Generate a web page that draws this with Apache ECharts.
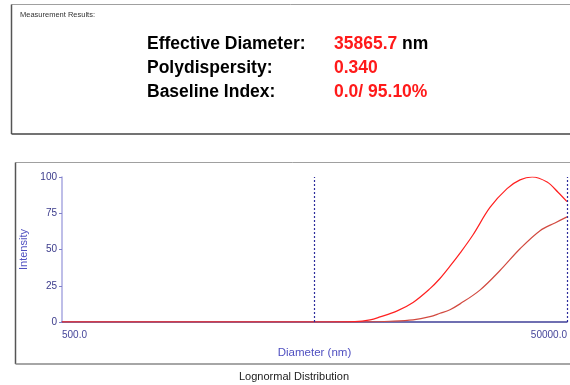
<!DOCTYPE html>
<html>
<head>
<meta charset="utf-8">
<script src="https://cdn.jsdelivr.net/npm/echarts@6/dist/echarts.min.js"></script>
<style>
  html, body { margin: 0; padding: 0; background: #fff; }
  #chart { width: 570px; height: 385px; }
</style>
</head>
<body>
<div id="chart"></div>
<script>
// Intensity distribution by particle diameter (nm), log-scaled x axis
const upperDiameters = [500, 1000, 2000, 5000, 7235, 8300, 9087, 10580, 12280, 14330, 15700, 17200, 18850, 21200, 24770, 28940, 32580, 36370, 41700, 46060, 50000];
const upperIntensity = [0, 0, 0, 0, 0.3, 1.5, 3.5, 7.5, 13.5, 23, 30, 38.5, 47.5, 60, 79, 92, 98, 100, 96.5, 89.5, 83];

const lowerDiameters = [500, 1000, 2000, 5000, 8070, 9950, 12280, 14330, 15700, 17200, 18850, 22600, 27140, 32580, 39100, 45000, 50000];
const lowerIntensity = [0, 0, 0, 0, 0.1, 0.5, 1.5, 3.7, 6, 8.5, 12.5, 22, 35.5, 50.5, 63, 68.5, 72.5];

const xTickValues = [500, 50000];
const yTickValues = [0, 25, 50, 75, 100];
const markerDiameters = [5000, 50000];

const resultLabels = ['Effective Diameter:', 'Polydispersity:', 'Baseline Index:'];
const resultValues = ['35865.7', '0.340', '0.0/ 95.10%'];
const resultUnits = [' nm', '', ''];

const pair = (xs, ys) => xs.map((x, i) => [x, ys[i]]);

const chart = echarts.init(document.getElementById('chart'), null, { renderer: 'canvas' });

const graphics = [
  // results panel frame
  { type: 'line', shape: { x1: 11.5, y1: 4.5, x2: 570, y2: 4.5 }, style: { stroke: '#a0a0a0', lineWidth: 1 } },
  { type: 'line', shape: { x1: 11.5, y1: 4.5, x2: 11.5, y2: 134 }, style: { stroke: '#555', lineWidth: 1.5 } },
  { type: 'line', shape: { x1: 11.5, y1: 134, x2: 570, y2: 134 }, style: { stroke: '#444', lineWidth: 1.5 } },
  { type: 'text', x: 20, y: 15, style: { text: 'Measurement Results:', font: '7.5px "Liberation Sans", Arial, sans-serif', fill: '#333', verticalAlign: 'middle' } },
  // chart panel frame
  { type: 'line', shape: { x1: 15.5, y1: 162.5, x2: 570, y2: 162.5 }, style: { stroke: '#a0a0a0', lineWidth: 1 } },
  { type: 'line', shape: { x1: 15.5, y1: 162.5, x2: 15.5, y2: 364 }, style: { stroke: '#555', lineWidth: 1.5 } },
  { type: 'line', shape: { x1: 15.5, y1: 364, x2: 570, y2: 364 }, style: { stroke: '#888', lineWidth: 1.5 } },
  { type: 'text', x: 294, y: 377, style: { text: 'Lognormal Distribution', font: '11px "Liberation Sans", Arial, sans-serif', fill: '#222', align: 'center', verticalAlign: 'middle' } }
];

resultLabels.forEach((label, i) => {
  const y = 44 + i * 24;
  graphics.push({ type: 'text', x: 147, y: y, style: { text: label, font: 'bold 17.5px "Liberation Sans", Arial, sans-serif', fill: '#000', verticalAlign: 'middle' } });
  graphics.push({
    type: 'text', x: 334, y: y,
    style: {
      text: '{v|' + resultValues[i] + '}' + (resultUnits[i] ? '{u|' + resultUnits[i] + '}' : ''),
      verticalAlign: 'middle',
      rich: {
        v: { font: 'bold 17.5px "Liberation Sans", Arial, sans-serif', fill: '#ff1a1a' },
        u: { font: 'bold 17.5px "Liberation Sans", Arial, sans-serif', fill: '#000' }
      }
    }
  });
});

chart.setOption({
  animation: false,
  backgroundColor: '#fff',
  grid: { left: 62, right: 3, top: 177, bottom: 63 },
  xAxis: {
    type: 'log',
    logBase: 10,
    min: 500,
    max: 50000,
    name: 'Diameter (nm)',
    nameLocation: 'middle',
    nameGap: 25,
    nameTextStyle: { color: '#4f4fc0', fontSize: 11.5, fontFamily: '"Liberation Sans", Arial, sans-serif' },
    axisLine: { lineStyle: { color: '#404098', width: 1.5 } },
    axisTick: { show: false },
    splitLine: { show: false },
    minorTick: { show: false },
    axisLabel: {
      customValues: xTickValues,
      formatter: v => Number(v).toFixed(1),
      alignMinLabel: 'left',
      alignMaxLabel: 'right',
      color: '#45459a',
      fontSize: 10,
      fontFamily: '"Liberation Sans", Arial, sans-serif',
      margin: 8
    }
  },
  yAxis: {
    type: 'value',
    min: 0,
    max: 100,
    interval: 25,
    name: 'Intensity',
    nameLocation: 'middle',
    nameGap: 28,
    nameTextStyle: { color: '#4f4fc0', fontSize: 11, fontFamily: '"Liberation Sans", Arial, sans-serif' },
    axisLine: { show: true, lineStyle: { color: '#a8a8e0', width: 1.5 } },
    axisTick: { show: true, length: 3, lineStyle: { color: '#8080c8' } },
    splitLine: { show: false },
    axisLabel: {
      customValues: yTickValues,
      color: '#3a3a8a',
      fontSize: 10,
      fontFamily: '"Liberation Sans", Arial, sans-serif',
      margin: 5
    }
  },
  series: [
    {
      type: 'line',
      data: pair(lowerDiameters, lowerIntensity),
      showSymbol: false,
      smooth: 0.35,
      lineStyle: { color: '#d24a40', width: 1.2 },
      z: 3
    },
    {
      type: 'line',
      data: pair(upperDiameters, upperIntensity),
      showSymbol: false,
      smooth: 0.35,
      lineStyle: { color: '#ff2020', width: 1.2 },
      z: 4,
      markLine: {
        silent: true,
        symbol: 'none',
        label: { show: false },
        lineStyle: { color: '#2c2c9c', type: [2, 2], width: 1.2 },
        data: markerDiameters.map(d => ({ xAxis: d }))
      }
    }
  ],
  graphic: graphics
});
</script>
</body>
</html>
